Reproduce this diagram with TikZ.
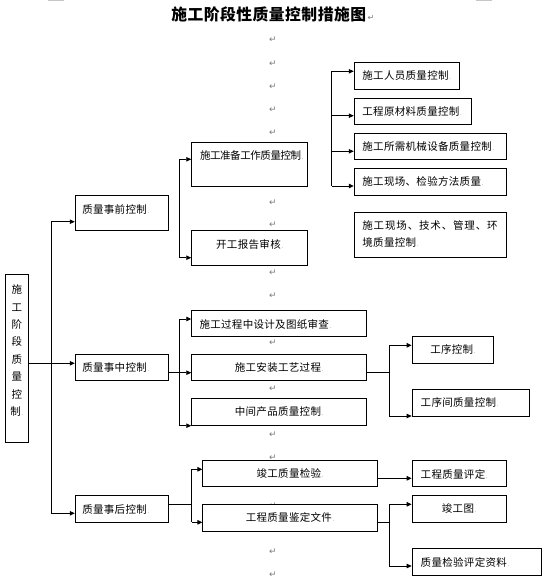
\documentclass[tikz,border=0pt]{standalone}
\usepackage{fontspec}
\setmainfont{Noto Sans CJK SC}[LetterSpace=3]
\newfontfamily\dejavu{DejaVu Sans}
\usetikzlibrary{arrows.meta}
\newcommand\ce{\kern0.6pt{\fontsize{7}{7}\selectfont\color{gray!80}.}}
\newcommand\mkbox[6]{\node[box, minimum width={#4-#2}, minimum height={#5-#3}] (#1) at ({(#2+#4)/2},{(#3+#5)/2}) {#6};}
\tikzset{
  txt/.style={font=\fontsize{10.5}{12}\selectfont, inner sep=0pt, text height=9pt, text depth=1pt},
  box/.style={txt, draw, line width=0.9pt, fill=white},
  ln/.style={line width=0.9pt},
  arr/.style={line width=0.9pt, -{Triangle[length=5pt,width=4.5pt]}},
  mk/.style={font=\dejavu\fontsize{9}{10}\selectfont, text=gray!95!black, inner sep=0pt},
  ttl/.style={font=\fontsize{15.8}{18}\selectfont\bfseries, inner sep=0pt},
}
\begin{document}
\begin{tikzpicture}[x=1pt,y=-1pt]
\useasboundingbox (0,0) rectangle (545,580);
% page corner marks
\fill[gray!45] (47.5,0) rectangle (64.1,1.5);
\fill[gray!45] (475.6,0) rectangle (492.2,1.5);
% title
\node[ttl] (tt) at (268.7,14) {施工阶段性质量控制措施图};
\node[mk, anchor=base west, font=\dejavu\fontsize{8}{9}\selectfont] (tm) at ([xshift=1pt]tt.base east) {↵};
% paragraph marks
\foreach \yy [count=\i] in {40,63.3,86.7,109.3,132.7,202.7,225,272.3,295.7,342.3,388.3,435,457.7,506,551.7,574.3}
  \node[mk] (m\i) at (272.8,\yy) {↵};
% boxes
\mkbox{ry}{354.2}{62.3}{459.3}{89.3}{}
\mkbox{ycl}{354.2}{98.3}{471.4}{124.3}{}
\mkbox{jx}{354.2}{133.3}{506.4}{159.3}{}
\mkbox{jy}{354.2}{168.3}{506.4}{195.3}{}
\mkbox{js}{354.2}{212.3}{506.4}{257.3}{}
\mkbox{zb}{191.7}{142.3}{307.8}{186}{}
\mkbox{kg}{191.7}{230.3}{307.8}{265.3}{}
\mkbox{sq}{75.2}{195.3}{168.1}{230.3}{}
\mkbox{vb}{5.2}{274.3}{28.4}{442.3}{}
\mkbox{sz}{75.2}{354.3}{168.1}{380.3}{}
\mkbox{sj}{191.7}{310.3}{366.7}{336.3}{}
\mkbox{az}{191.7}{354.3}{366.7}{380.3}{施工安装工艺过程\ce}
\mkbox{zj}{191.7}{398.3}{366.7}{425}{中间产品质量控制\ce}
\mkbox{gx}{412.1}{336.3}{493.9}{363.3}{工序控制\ce}
\mkbox{gj}{412.1}{389.7}{529.3}{416.7}{}
\mkbox{sh}{75.2}{495.3}{168.1}{522.3}{}
\mkbox{jg}{202.8}{460.3}{377.5}{486.3}{竣工质量检验\ce}
\mkbox{jd}{202.8}{504.3}{377.5}{531}{工程质量鉴定文件\ce}
\mkbox{pd}{412.1}{460.3}{506.4}{486.3}{}
\mkbox{jgt}{412.1}{495.3}{506.4}{522.3}{竣工图\ce}
\mkbox{zl}{412.1}{548}{541.1}{575.3}{}
% texts in boxes
\node[txt, anchor=west] (ryt) at (362.2,75.8) {施工人员质量控制\ce};
\node[txt, anchor=west] (yclt) at (362.2,111.3) {工程原材料质量控制\ce};
\node[txt, anchor=west] (jxt) at (362.2,146.3) {施工所需机械设备质量控制\ce};
\node[txt, anchor=west] (jyt) at (362.2,181.8) {施工现场、检验方法质量\ce};
\node[txt, anchor=west, font=\fontsize{10.5}{12}\selectfont\addfontfeatures{LetterSpace=8}] (jst1) at (362.2,225.7) {施工现场、技术、管理、环};
\node[txt, anchor=west] (jst2) at (362.2,242.3) {境质量控制\ce};
\node[txt, anchor=west, font=\fontsize{10.5}{12}\selectfont\addfontfeatures{LetterSpace=-4}] (zbt) at (199.8,155.7) {施工准备工作质量控制\ce};
\node[txt] (kgt) at (249.75,244) {开工报告审核\ce};
\node[txt, anchor=west] (sqt) at (82.1,209) {质量事前控制\ce};
\node[txt, anchor=west] (szt) at (82.1,367.5) {质量事中控制\ce};
\node[txt, anchor=west] (sjt) at (199.3,324.3) {施工过程中设计及图纸审查\ce};
\node[txt, anchor=west] (gjt) at (420.5,402.8) {工序间质量控制\ce};
\node[txt, anchor=west] (sht) at (82.1,509.3) {质量事后控制\ce};
\node[txt, anchor=west] (pdt) at (420.5,474) {工程质量评定\ce};
\node[txt, anchor=west] (zlt) at (420.5,562.5) {质量检验评定资料\ce};
\node[txt, align=center, text height=, text depth=, font=\fontsize{10.5}{17.4}\selectfont] (vbt) at (16.8,350.5) {施\\工\\阶\\段\\质\\量\\控\\制\ce};
% connectors
\coordinate (h1) at (40,363.3);
\draw[arr] (vb.east |- h1) -- (sz.west |- h1);
\coordinate (t1) at (51.3,221.7);
\coordinate (t2) at (51.3,513.3);
\draw[ln] (t1) -- (t2);
\draw[arr] (t1) -- (sq.west |- t1);
\draw[arr] (t2) -- (sh.west |- t2);
% pre-control bracket
\coordinate (a1) at (179.9,159.3);
\coordinate (a2) at (179.9,257.7);
\draw[ln] (a1) -- (a2);
\draw[arr] (a1) -- (zb.west |- a1);
\draw[arr] (a2) -- (kg.west |- a2);
% right bracket top
\coordinate (b1) at (331.7,71.3);
\coordinate (b2) at (331.7,115.7);
\coordinate (b3) at (331.7,151.3);
\coordinate (b4) at (331.7,186);
\draw[ln] (b1) -- (b4);
\draw[arr] (b1) -- (ry.west |- b1);
\draw[arr] (b2) -- (ycl.west |- b2);
\draw[arr] (b3) -- (jx.west |- b3);
\draw[arr] (b4) -- (jy.west |- b4);
% in-process
\coordinate (c1) at (179.9,372.7);
\coordinate (d1) at (179.9,319);
\coordinate (d2) at (179.9,425.7);
\draw[ln] (sz.east |- c1) -- (c1);
\draw[ln] (d1) -- (d2);
\draw[arr] (c1) -- (az.west |- c1);
\draw[arr] (d1) -- (sj.west |- d1);
\draw[arr] (d2) -- (zj.west |- d2);
\coordinate (e) at (389.3,372.7);
\coordinate (e1) at (389.3,345.3);
\coordinate (e2) at (389.3,416);
\draw[ln] (az.east |- e) -- (e);
\draw[ln] (e1) -- (e2);
\draw[arr] (e1) -- (gx.west |- e1);
\draw[arr] (e2) -- (gj.west |- e2);
% post-control
\coordinate (f) at (191.7,504.3);
\coordinate (f1) at (191.7,469.3);
\coordinate (f2) at (191.7,522.3);
\draw[ln] (sh.east |- f) -- (f);
\draw[ln] (f1) -- (f2);
\draw[arr] (f1) -- (jg.west |- f1);
\draw[arr] (f2) -- (jd.west |- f2);
\coordinate (g) at (390,478.3);
\draw[arr] (jg.east |- g) -- (pd.west |- g);
\coordinate (k) at (389.3,522.3);
\coordinate (k1) at (389.3,504.3);
\coordinate (k2) at (389.3,566);
\draw[ln] (jd.east |- k) -- (k);
\draw[ln] (k1) -- (k2);
\draw[arr] (k1) -- (jgt.west |- k1);
\draw[arr] (k2) -- (zl.west |- k2);
\end{tikzpicture}
\end{document}
